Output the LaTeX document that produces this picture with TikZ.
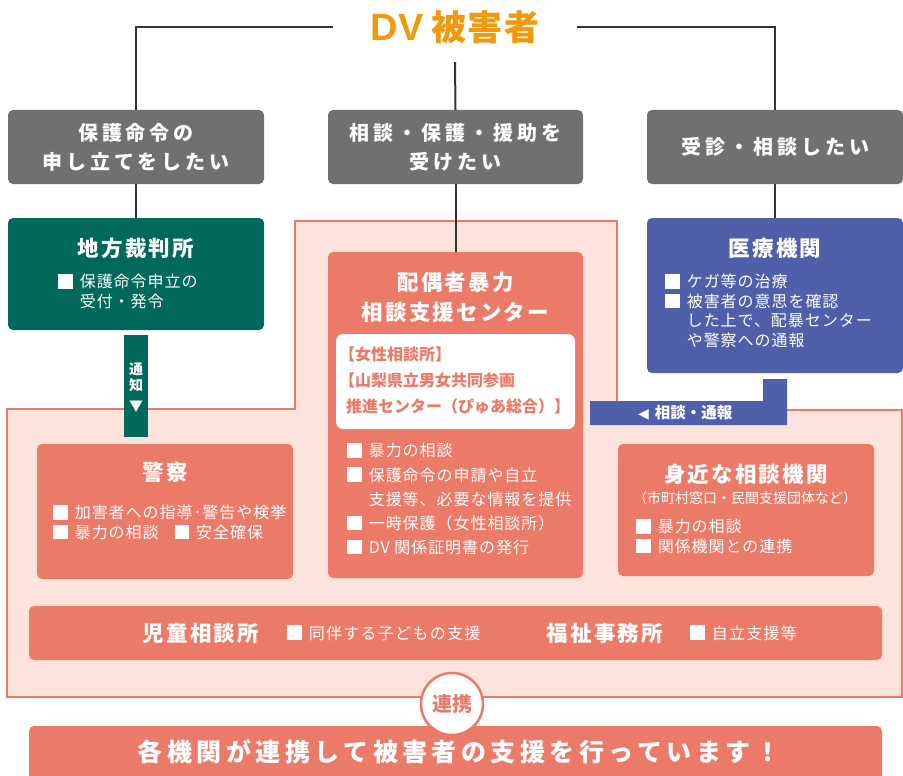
\documentclass[tikz,border=0pt]{standalone}
\usepackage{fontspec}
\setmainfont{Noto Sans CJK JP}
\newfontfamily\dejavu{DejaVu Sans}
\newfontfamily\lib{Liberation Sans}
\definecolor{cgray}{HTML}{707070}
\definecolor{cgreen}{HTML}{00695B}
\definecolor{cblue}{HTML}{4F5FA9}
\definecolor{csalmon}{HTML}{EC7A69}
\definecolor{cpink}{HTML}{FCE3DC}
\definecolor{corange}{HTML}{F0990C}
\definecolor{cline}{HTML}{333333}
\newcommand\fsz[2]{\fontsize{#1pt}{#2pt}\selectfont}
\newcommand\ls[1]{\addfontfeatures{LetterSpace=#1}}
\newcommand\bl{\rule[-0.04em]{0.9em}{0.9em}\hspace{0.45em}}
\newcommand\ind{\hspace*{1.35em}}
\tikzset{
  box/.style={rectangle, rounded corners=5pt, inner sep=0pt, minimum width=256pt},
  graybox/.style={box, fill=cgray, text=white, font={\fsz{20}{29}\bfseries\ls{20}}, align=center, minimum height=74pt},
  ttl/.style={text=white, inner sep=0pt, font={\fsz{21.5}{30}\bfseries\ls{10}}},
  blist/.style={anchor=north west, align=left, inner sep=0pt, text=white, font={\fsz{16}{19.5}\ls{6}}},
  conn/.style={draw=cline, line width=2pt},
  region/.style={fill=cpink, draw=csalmon, line width=2.5pt, line join=miter},
}
\begin{document}
\begin{tikzpicture}[x=1pt,y=-1pt]
\useasboundingbox (0,0) rectangle (903,776);
% pink region
\path[region] (7,409) -- (295,409) -- (295,221) -- (617,221) -- (617,410) -- (902,410) -- (902,697) -- (7,697) -- cycle;
% title
\node[text=corange, font={\fsz{35}{38}\bfseries\ls{4}}, inner xsep=38pt, inner ysep=0pt] (dv) at (455,27) {{\lib\fsz{38}{40}\bfseries DV}\hspace{8pt}被害者};
% gray boxes
\node[graybox] (g1) at (136,147) {保護命令の\\申し立てをしたい};
\node[graybox, minimum width=255pt] (g2) at (455.5,147) {相談・保護・援助を\\受けたい};
\node[graybox] (g3) at (775,147) {受診・相談したい};
% green box
\node[box, fill=cgreen, minimum height=112pt] (gr) at (136,274) {};
\node[ttl] (grt) at (136,248) {地方裁判所};
\node[blist] (grl) at (58,274) {\bl 保護命令申立の\\\ind 受付・発令};
% blue box
\node[box, fill=cblue, minimum height=155pt] (bl) at (775,295.5) {};
\node[ttl] (blt) at (775,248) {医療機関};
\node[blist] (bll) at (665,274) {\bl ケガ等の治療\\\bl 被害者の意思を確認\\\ind した上で、配暴センター\\\ind や警察への通報};
% center box
\node[box, fill=csalmon, minimum width=255pt, minimum height=326pt] (cc) at (455.5,415) {};
\node[ttl, align=center] (cct) at (455.5,297) {配偶者暴力\\相談支援センター};
\node[box, fill=white, rounded corners=7pt, minimum width=239pt, minimum height=95pt] (wb) at (455.5,381.5) {};
\node[anchor=north west, align=left, inner sep=0pt, text=csalmon, font={\fsz{16}{26}\bfseries}] (wbt) at (346,347) {\hspace*{-0.45em}【女性相談所】\\\hspace*{-0.45em}【山梨県立男女共同参画\\推進センター（ぴゅあ総合）】};
\node[blist, font={\fsz{16}{24.2}\ls{6}}] (ccl) at (347,443) {\bl 暴力の相談\\\bl 保護命令の申請や自立\\\ind 支援等、必要な情報を提供\\\bl 一時保護（女性相談所）\\\bl DV 関係証明書の発行};
% connectors
\coordinate (dvb) at (455,62);
\draw[conn] (g1.north) |- (dv.west);
\draw[conn] (g3.north) |- (dv.east);
\draw[conn] (dvb) -- (g2.north);
\draw[conn] (g1.south) -- (gr.north);
\draw[conn] (g2.south) -- (cc.north);
\draw[conn] (g3.south) -- (bl.north);
% notification strip
\node[rectangle, fill=cgreen, minimum width=24pt, minimum height=102pt, inner sep=0pt] (ntc) at (136,386) {};
\node[text=white, align=center, inner sep=0pt, font={\fsz{14}{16}\bfseries}] (ntct) at (136,377) {通\\知};
\node[text=white, inner sep=0pt, font={\fsz{14}{16}}] (ntca) at (136,407) {▼};
% blue L connector
\fill[cblue] (763,379) -- (787,379) -- (787,425) -- (590,425) -- (590,401) -- (763,401) -- cycle;
\node[anchor=west, text=white, inner sep=0pt, font={\fsz{15.5}{18}\bfseries}] (blc) at (638,413) {{\dejavu\fsz{14}{16}◀}\hspace{6pt}相談・通報};
% police
\node[box, fill=csalmon, minimum height=135pt] (pol) at (165,511.5) {};
\node[ttl] (polt) at (165,472) {警察};
\node[blist] (poll) at (53,505) {\bl 加害者への指導･警告や検挙\\\bl 暴力の相談\hspace{1.0em}\bl 安全確保};
% nearby
\node[box, fill=csalmon, minimum height=132pt] (nb) at (746,510) {};
\node[ttl] (nbt) at (746,474) {身近な相談機関};
\node[text=white, inner sep=0pt, font={\fsz{14}{16}}] (nbs) at (745,498) {（市町村窓口・民間支援団体など）};
\node[blist] (nbl) at (636,519) {\bl 暴力の相談\\\bl 関係機関との連携};
% wide box
\node[box, fill=csalmon, minimum width=853pt, minimum height=54pt] (wd) at (455.5,633) {};
\node[ttl] (wd1) at (201,633) {児童相談所};
\node[anchor=west, text=white, inner sep=0pt, font={\fsz{16}{18}\ls{8}}] (wd2) at (287,633) {\bl 同伴する子どもの支援};
\node[ttl] (wd3) at (605,633) {福祉事務所};
\node[anchor=west, text=white, inner sep=0pt, font={\fsz{16}{18}\ls{8}}] (wd4) at (690,633) {\bl 自立支援等};
% banner
\node[box, fill=csalmon, minimum width=853pt, minimum height=74pt] (bn) at (455.5,763) {};
\node[text=white, inner sep=0pt, font={\fsz{25}{28}\bfseries\ls{18}}] (bnt) at (459,752) {各機関が連携して被害者の支援を行っています！};
% circle
\node[circle, draw=csalmon, line width=2.5pt, fill=white, minimum size=62pt, inner sep=0pt, text=csalmon, font={\fsz{20}{22}\bfseries}] (ci) at (452,704) {連携};
\end{tikzpicture}
\end{document}
